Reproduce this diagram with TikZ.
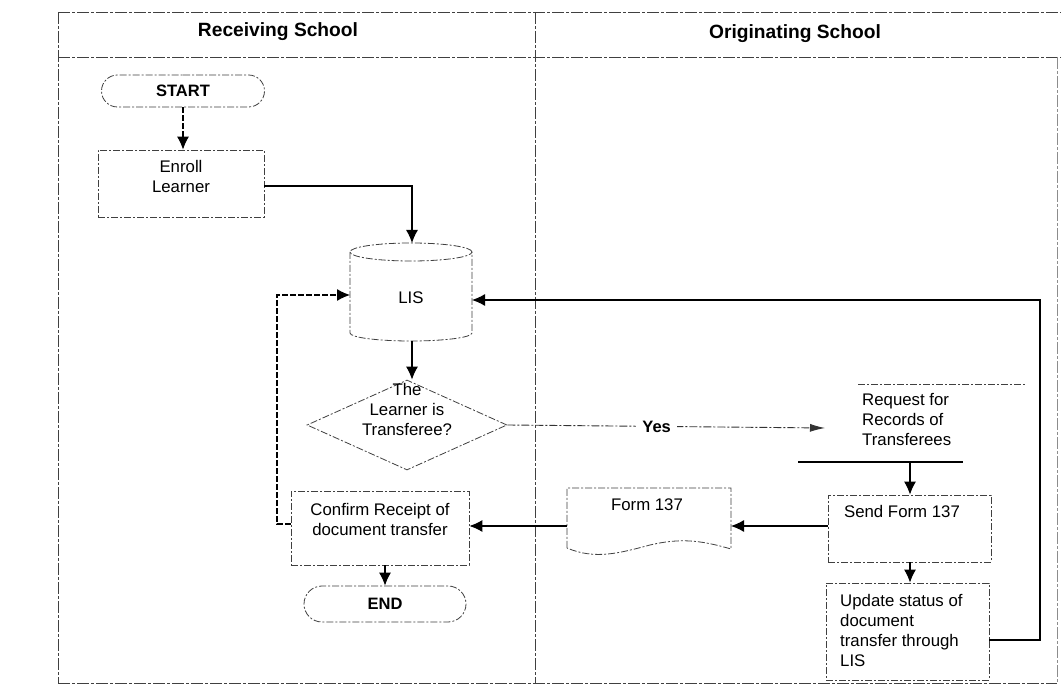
\documentclass[tikz,border=0pt]{standalone}
\usepackage{fontspec}
\setmainfont{Liberation Sans}
\usetikzlibrary{arrows.meta,shapes.geometric,shapes.misc}
\newcommand{\bodyf}{\fontsize{16.8}{20}\selectfont}
\newcommand{\headf}{\fontsize{19.2}{22}\selectfont\bfseries}
\newcommand{\boldf}{\fontsize{16.5}{20}\selectfont\bfseries}
\begin{document}
\begin{tikzpicture}[x=1pt,y=-1pt,
  frameline/.style={draw=black!75, line width=0.8pt, dash pattern=on 12pt off 2pt on 3pt off 2pt},
  shapeline/.style={draw=black!75, line width=0.8pt, dash pattern=on 7pt off 2pt on 2pt off 2pt},
  procbox/.style={shapeline, rectangle, inner sep=0pt},
  termbox/.style={shapeline, rounded rectangle, inner sep=0pt, font=\boldf},
  txt/.style={font=\bodyf, inner sep=0pt},
  conn/.style={draw=black, line width=1.1pt, -{Latex[length=13pt,width=12pt]}},
  dconn/.style={conn, dash pattern=on 6pt off 2pt},
  yesconn/.style={draw=black!80, line width=0.9pt, dash pattern=on 8pt off 2pt on 2pt off 2pt, -{Latex[length=15pt,width=8pt]}}
]
\useasboundingbox (0,0) rectangle (1061,692);
\fill[white] (0,0) rectangle (1061,692);

% frame
\draw[frameline] (58,12) -- (1061,12);
\draw[frameline] (58,57) -- (1061,57);
\draw[frameline] (58,12) -- (58,683);
\draw[frameline] (58,683) -- (1057,683);
\draw[frameline, draw=black!45] (1057,57) -- (1057,683);
\draw[frameline] (535,12) -- (535,683);

\node[font=\headf] (hrec) at (278,32) {Receiving School};
\node[font=\headf] (horg) at (795,34) {Originating School};

% receiving school
\node[termbox, minimum width=163pt, minimum height=32pt] (start) at (183,91) {START};
\node[procbox, minimum width=166pt, minimum height=67pt] (enroll) at (181,183.5) {};
\node[txt, align=center, anchor=north] (enrollT) at (181,160) {Enroll\\Learner};

% LIS cylinder
\node[inner sep=0pt, minimum width=122pt, minimum height=98pt] (lis) at (411,292) {};
\draw[shapeline] (350,252) -- (350,333) arc[start angle=180, end angle=360, x radius=61pt, y radius=8pt] -- (472,252);
\draw[shapeline] (411,252) ellipse [x radius=61pt, y radius=9pt];
\node[txt] (lisT) at (411,298) {LIS};

% decision
\node[shapeline, diamond, inner sep=0pt, minimum width=200pt, minimum height=90pt] (dec) at (407,425) {};
\node[txt, align=center] (decT) at (407,409) {The\\Learner is\\Transferee?};

\node[procbox, minimum width=178pt, minimum height=74pt] (confirm) at (380,528) {};
\node[txt, align=center, anchor=north] (confirmT) at (380,503) {Confirm Receipt of\\document transfer};

\node[termbox, minimum width=162pt, minimum height=36pt] (end) at (385,604) {END};

% originating school
\node[inner sep=0pt, minimum width=165pt, minimum height=78pt] (req) at (912,423) {};
\draw[shapeline] (858,384) -- (1025,384);
\draw[draw=black, line width=1.1pt] (798,462) -- (963,462);
\node[txt, align=left, anchor=north west] (reqT) at (862,393) {Request for\\Records of\\Transferees};

\node[procbox, minimum width=163pt, minimum height=67pt] (send) at (909.5,528.5) {};
\node[txt, anchor=north] (sendT) at (902,505) {Send Form 137};

\node[procbox, minimum width=163pt, minimum height=97pt] (update) at (907.5,631.5) {};
\node[txt, align=left, anchor=north west] (updateT) at (840,594) {Update status of\\document\\transfer through\\LIS};

% Form 137 document
\node[inner sep=0pt, minimum width=164pt, minimum height=61pt] (form) at (649,518) {};
\draw[shapeline] (567,548) -- (567,488) -- (731,488) -- (731,549)
  .. controls (700,540) and (680,538) .. (650,545)
  .. controls (620,553) and (595,560) .. (567,548);
\node[txt] (formT) at (647,505) {Form 137};

% connectors
\draw[dconn] (start.south) -- (enroll.north -| start.south);
\draw[conn] (enroll.east |- 0,186) -- (412,186) -- (412,243);
\draw[conn] (412,341) -- (dec.north -| 412,0);
\draw[yesconn] (dec.east) -- (825,428) node[pos=0.47, fill=white, inner xsep=6pt, font=\boldf] (yes) {Yes};
\draw[conn] (910,462) -- (send.north -| 910,0);
\draw[conn] (send.south -| 910,0) -- (update.north -| 910,0);
\draw[conn] (send.west |- 0,526) -- (731,526);
\draw[conn] (567,526) -- (confirm.east |- 0,526);
\draw[conn] (confirm.south -| 385,0) -- (end.north -| 385,0);
\coordinate (lb) at (277,524);
\coordinate (lt) at (277,295);
\draw[dconn] (confirm.west |- lb) -- (lb) -- (lt) -- (350,295);
\coordinate (rb) at (1040,640);
\coordinate (rt) at (1040,300);
\draw[conn] (update.east |- rb) -- (rb) -- (rt) -- (472,300);
\end{tikzpicture}
\end{document}
